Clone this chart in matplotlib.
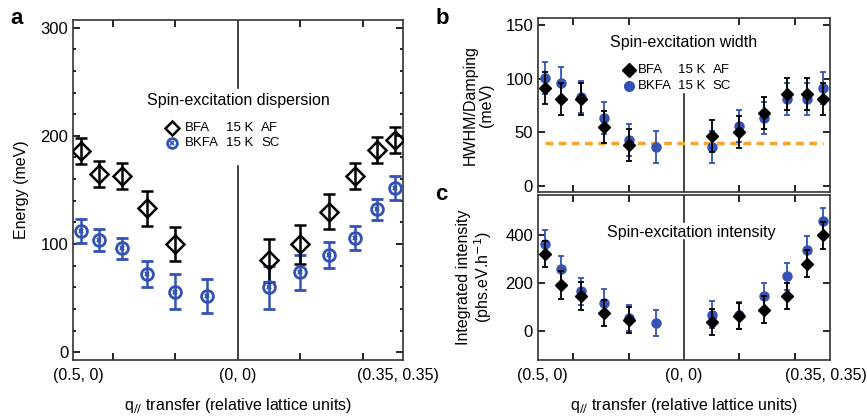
import matplotlib
matplotlib.use('Agg')
import matplotlib.pyplot as plt
from matplotlib.ticker import MultipleLocator

plt.rcParams['font.family'] = ['Liberation Sans', 'DejaVu Sans']

BLUE = '#3352b3'
ORANGE = '#f6a42c'

# q positions along the path (0.5,0) -> (0,0) -> (0.35,0.35), in plot units
q_left = [-2.51, -2.22, -1.86, -1.45, -1.0, -0.5]
q_right = [0.5, 1.0, 1.45, 1.87, 2.22, 2.51]
q_bfa = q_left[:5] + q_right
q_bkfa = q_left + q_right

# panel a: dispersion (meV)
e_bfa = [186, 165, 163, 133, 100, 85, 100, 130, 163, 187, 196]
e_bfa_err = [12, 12, 12, 16, 16, 20, 18, 16, 12, 12, 12]
e_bkfa = [112, 104, 96, 72, 56, 52, 60, 74, 90, 106, 132, 152]
e_bkfa_err = [11, 10, 10, 12, 16, 16, 20, 16, 12, 11, 10, 11]

# panel b: width (meV)
w_bfa = [91, 81, 81, 55, 38, 46, 50, 68, 86, 86, 81]
w_bfa_err = [15] * 11
w_bkfa = [101, 96, 83, 63, 43, 36, 36, 56, 63, 81, 81, 91]
w_bkfa_err = [15] * 12
damping = 40

# panel c: integrated intensity
i_bfa = [321, 190, 145, 75, 47, 37, 62, 89, 145, 280, 397]
i_bfa_err = [55, 58, 58, 55, 55, 55, 55, 55, 55, 55, 55]
i_bkfa = [363, 256, 165, 118, 55, 33, 68, 65, 144, 227, 338, 457]
i_bkfa_err = [55] * 12

xlabels = ['(0.5, 0)', '(0, 0)', '(0.35, 0.35)']

fig = plt.figure(figsize=(8.67, 4.18), dpi=100)
ax_a = fig.add_axes([0.0842, 0.1388, 0.3806, 0.8134])
ax_b = fig.add_axes([0.6205, 0.5407, 0.3368, 0.4162])
ax_c = fig.add_axes([0.6205, 0.1388, 0.3368, 0.3947])


def style_x(ax, show_labels):
    ax.set_xlim(-2.64, 2.64)
    ax.set_xticks([-2.56, 0, 2.56])
    if show_labels:
        ax.set_xticklabels(xlabels, fontsize=11.5)
        ax.set_xlabel(r'q$_{//}$ transfer (relative lattice units)', fontsize=11.5, labelpad=9)
    else:
        ax.set_xticklabels([])
    ax.set_xticks([-2, -1, 0, 1, 2], minor=True)
    ax.tick_params(axis='x', which='major', length=0, pad=6)
    ax.tick_params(axis='x', which='minor', direction='in', length=5, width=1.2, top=True, bottom=True)
    ax.tick_params(axis='y', which='both', direction='in', left=True, right=True, labelsize=12, width=1.2)
    ax.tick_params(axis='y', which='major', length=5)
    ax.tick_params(axis='y', which='minor', length=2.5)
    for s in ax.spines.values():
        s.set_linewidth(1.2)
        s.set_color('#333333')


# ---- panel a
ax = ax_a
ax.plot([0, 0], [244, 320], color='#222222', lw=1.2, zorder=1)
ax.plot([0, 0], [-20, 172], color='#222222', lw=1.2, zorder=1)
ax.errorbar(q_bkfa, e_bkfa, yerr=e_bkfa_err, fmt='o', ms=8.5, mfc='none', mec=BLUE, mew=2,
            ecolor=BLUE, elinewidth=1.8, capsize=4, capthick=1.8, zorder=3)
ax.plot(q_bkfa, e_bkfa, 'x', ms=3.5, mew=1.5, color=BLUE, zorder=4)
ax.errorbar(q_bfa, e_bfa, yerr=e_bfa_err, fmt='D', ms=9, mfc='none', mec='black', mew=1.8,
            ecolor='black', elinewidth=1.8, capsize=4, capthick=1.8, zorder=3)
ax.set_ylim(-7, 307)
ax.yaxis.set_major_locator(MultipleLocator(100))
ax.yaxis.set_minor_locator(MultipleLocator(20))
ax.set_ylabel('Energy (meV)', fontsize=11.5, labelpad=8)
style_x(ax, True)
ax.text(0, 233, 'Spin-excitation dispersion', ha='center', va='center', fontsize=11.5)
ax.plot([-1.06], [207], 'D', ms=7.5, mfc='none', mec='black', mew=1.8)
ax.plot([-1.06], [193], 'o', ms=7, mfc='none', mec=BLUE, mew=2)
ax.plot([-1.06], [193], 'x', ms=3, mew=1.3, color=BLUE)
for txt, x in [('BFA', -0.85), ('15 K', -0.19), ('AF', 0.37)]:
    ax.text(x, 207, txt, ha='left', va='center', fontsize=9.5)
for txt, x in [('BKFA', -0.85), ('15 K', -0.19), ('SC', 0.37)]:
    ax.text(x, 193, txt, ha='left', va='center', fontsize=9.5)

# ---- panel b
ax = ax_b
ax.plot([0, 0], [-20, 86], color='#222222', lw=1.2, zorder=1)
ax.plot([q_bkfa[0], q_bkfa[-1]], [damping, damping], ls=(0, (2.2, 1.6)), color=ORANGE, lw=2.5, zorder=2)
ax.errorbar(q_bkfa, w_bkfa, yerr=w_bkfa_err, fmt='o', ms=6.5, color=BLUE,
            ecolor=BLUE, elinewidth=1.3, capsize=2.5, capthick=1.3, zorder=3)
ax.errorbar(q_bfa, w_bfa, yerr=w_bfa_err, fmt='D', ms=6.5, color='black',
            ecolor='black', elinewidth=1.3, capsize=2.5, capthick=1.3, zorder=4)
ax.set_ylim(-6, 157)
ax.yaxis.set_major_locator(MultipleLocator(50))
ax.set_ylabel('HWHM/Damping\n(meV)', fontsize=11.5, labelpad=8, linespacing=1.1)
style_x(ax, False)
ax.text(0, 134, 'Spin-excitation width', ha='center', va='center', fontsize=11.5)
ax.plot([-0.99], [108.4], 'D', ms=7, color='black')
ax.plot([-0.99], [93.4], 'o', ms=7, color=BLUE)
for txt, x in [('BFA', -0.83), ('15 K', -0.11), ('AF', 0.52)]:
    ax.text(x, 108.4, txt, ha='left', va='center', fontsize=9.5)
for txt, x in [('BKFA', -0.83), ('15 K', -0.11), ('SC', 0.52)]:
    ax.text(x, 93.4, txt, ha='left', va='center', fontsize=9.5)

# ---- panel c
ax = ax_c
ax.plot([0, 0], [454, 600], color='#222222', lw=1.2, zorder=1)
ax.plot([0, 0], [-150, 379], color='#222222', lw=1.2, zorder=1)
ax.errorbar(q_bkfa, i_bkfa, yerr=i_bkfa_err, fmt='o', ms=6.5, color=BLUE,
            ecolor=BLUE, elinewidth=1.3, capsize=2.5, capthick=1.3, zorder=3)
ax.errorbar(q_bfa, i_bfa, yerr=i_bfa_err, fmt='D', ms=6.5, color='black',
            ecolor='black', elinewidth=1.3, capsize=2.5, capthick=1.3, zorder=4)
ax.set_ylim(-120, 565)
ax.yaxis.set_major_locator(MultipleLocator(200))
ax.set_ylabel('Integrated intensity\n(phs.eV.h$^{-1}$)', fontsize=11.5, labelpad=8, linespacing=1.1)
style_x(ax, True)
ax.text(0.14, 408, 'Spin-excitation intensity', ha='center', va='center', fontsize=11.5)

fig.text(0.012, 0.955, 'a', fontsize=16, fontweight='bold', va='center')
fig.text(0.502, 0.955, 'b', fontsize=16, fontweight='bold', va='center')
fig.text(0.502, 0.535, 'c', fontsize=16, fontweight='bold', va='center')

fig.savefig('out.png', dpi=100)
